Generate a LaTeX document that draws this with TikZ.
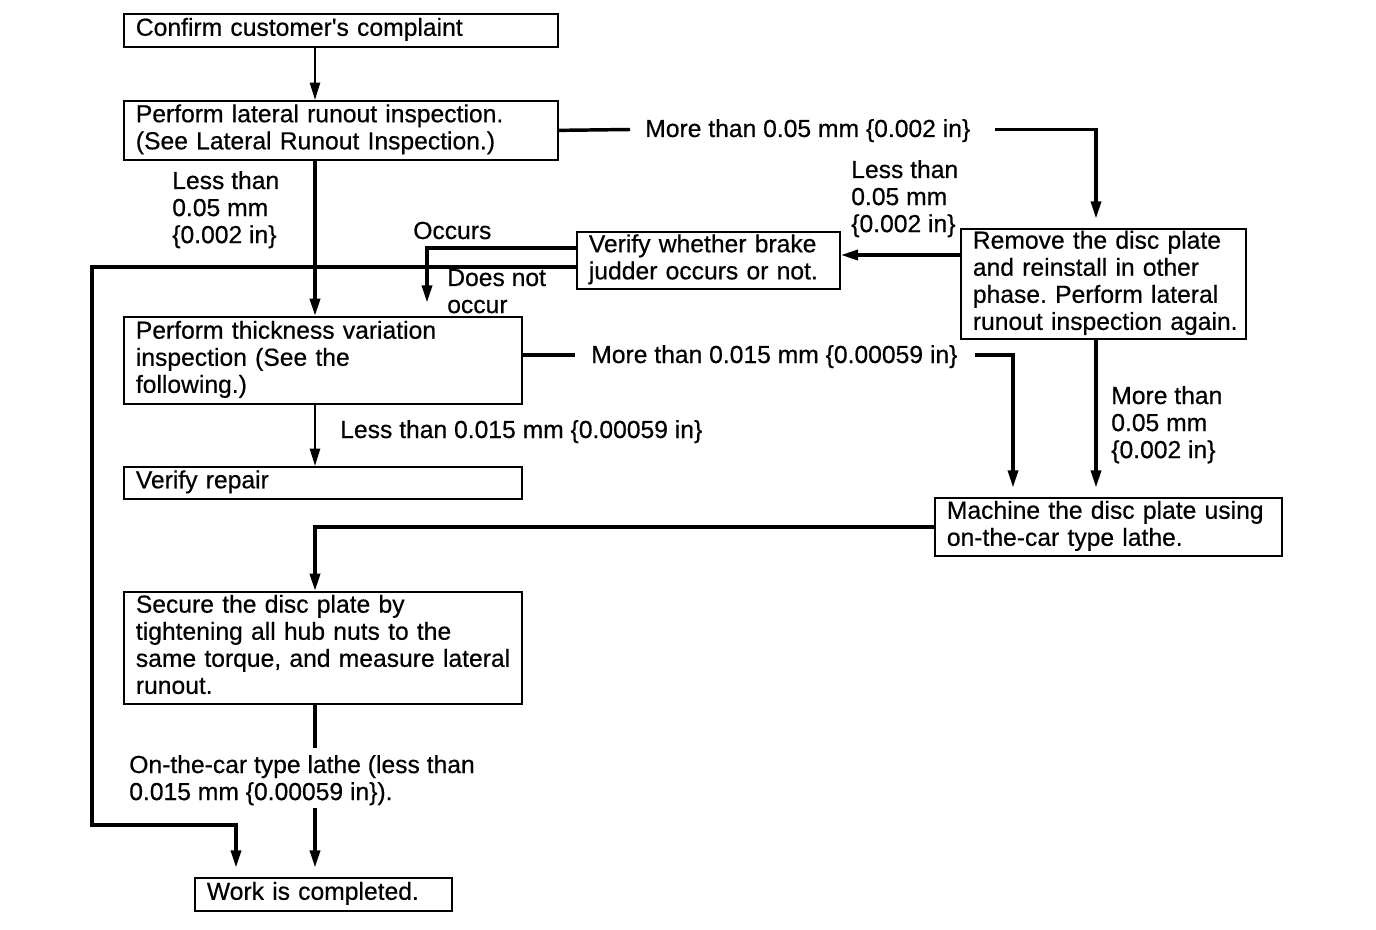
\documentclass[tikz,border=0pt]{standalone}
\usepackage{fontspec}
\setmainfont{Liberation Sans}[FakeBold=0.5]
\usetikzlibrary{arrows.meta}
\newcommand{\lns}[1]{\begin{tabular}{@{}l@{}}#1\end{tabular}}
\newcommand{\lnt}[1]{\begin{tabular}[t]{@{}l@{}}#1\end{tabular}}
\frenchspacing
\begin{document}
\begin{tikzpicture}[x=0.75pt,y=-0.75pt,
  every node/.style={font=\fontsize{18.5}{20.3}\selectfont},
  box/.style={draw, line width=1.3pt, anchor=north west, inner xsep=9pt, inner ysep=0pt, align=left},
  lbl/.style={anchor=base west, inner sep=0pt, align=left},
  line/.style={line width=2.6pt},
  thinline/.style={line width=1.8pt},
  conn/.style={line width=2.6pt, -{Triangle[length=13pt,width=7.5pt]}},
  short/.style={shorten >=7pt}]
\useasboundingbox (0,0) rectangle (1376,930);
\fill[white] (0,0) rectangle (1376,930);

% boxes
\node[box, text width=307.5pt, minimum height=24.75pt] (b1) at (123,13) {\lns{Confirm customer\textquotesingle s complaint}};
\node[box, text width=307.5pt, minimum height=44.25pt] (b2) at (123,100) {\lns{Perform lateral runout inspection.\\(See Lateral Runout Inspection.)}};
\node[box, text width=280.5pt, minimum height=65.25pt] (b3) at (123,316) {\lns{Perform thickness variation\\inspection (See the\\following.)}};
\node[box, text width=280.5pt, minimum height=24pt] (b4) at (123,466) {\lns{Verify repair}};
\node[box, text width=179.25pt, minimum height=42.75pt] (b5) at (576,231) {\lns{Verify whether brake\\judder occurs or not.}};
\node[box, text width=195.75pt, minimum height=82.5pt] (b6) at (960,228) {\lns{Remove the disc plate\\and reinstall in other\\phase. Perform lateral\\runout inspection again.}};
\node[box, text width=242.25pt, minimum height=43.5pt] (b7) at (934,497) {\lns{Machine the disc plate using\\on-the-car type lathe.}};
\node[box, text width=280.5pt, minimum height=84pt] (b8) at (123,591) {\lns{Secure the disc plate by\\tightening all hub nuts to the\\same torque, and measure lateral\\runout.}};
\node[box, text width=174.75pt, minimum height=24.75pt] (b9) at (194,877) {\lns{Work is completed.}};

% labels
\node[lbl] (l1) at (172,189) {\lnt{Less than\\0.05 mm\\\{0.002 in\}}};
\node[lbl] (l2) at (645,137) {More than 0.05 mm \{0.002 in\}};
\node[lbl] (l3) at (851,178) {\lnt{Less than\\0.05 mm\\\{0.002 in\}}};
\node[lbl] (l4) at (413,239) {Occurs};
\node[lbl] (l5) at (447,286) {\lnt{Does not\\occur}};
\node[lbl] (l6) at (591,363) {More than 0.015 mm \{0.00059 in\}};
\node[lbl] (l7) at (340,438) {Less than 0.015 mm \{0.00059 in\}};
\node[lbl] (l8) at (1111,404) {\lnt{More than\\0.05 mm\\\{0.002 in\}}};
\node[lbl] (l9) at (129,773) {\lnt{On-the-car type lathe (less than\\0.015 mm \{0.00059 in\}).}};

% helper coordinates
\coordinate (cL) at (315,0);
\coordinate (cR) at (1096,0);
\coordinate (cM) at (1013,0);
\coordinate (cO) at (427,0);
\coordinate (cF) at (92,0);
\coordinate (cW) at (236,0);
\coordinate (g1) at (630,129.5);
\coordinate (g2) at (995,129.5);
\coordinate (g3) at (575,355);
\coordinate (g4) at (975,355);
\coordinate (g5) at (315,748);
\coordinate (g6) at (315,808);
\coordinate (yV) at (0,255);
\coordinate (yA) at (0,248);
\coordinate (yB) at (0,267);
\coordinate (yC) at (0,825);

% connectors
\draw[conn, thinline] (b1.south -| cL) -- (b2.north -| cL);
\draw[conn] (b2.south -| cL) -- (b3.north -| cL);
\draw[line] (b2.east) -- (g1);
\draw[conn, short] (g2) -| (b6.north -| cR);
\draw[conn] (b6.west |- yV) -- (b5.east |- yV);
\draw[conn, shorten >=10pt] (b5.west |- yA) -| (b3.north -| cO);
\draw[conn, short] (b5.west |- yB) -| (cF |- yC) -| (b9.north -| cW);
\draw[line] (b3.east |- g3) -- (g3);
\draw[conn, short] (g4) -| (b7.north -| cM);
\draw[conn, short] (b6.south -| cR) -- (b7.north -| cR);
\draw[conn, thinline] (b3.south -| cL) -- (b4.north -| cL);
\draw[conn] (b7.west) -| (b8.north -| cL);
\draw[line] (b8.south -| cL) -- (g5);
\draw[conn, short] (g6) -- (b9.north -| cL);
\end{tikzpicture}
\end{document}
